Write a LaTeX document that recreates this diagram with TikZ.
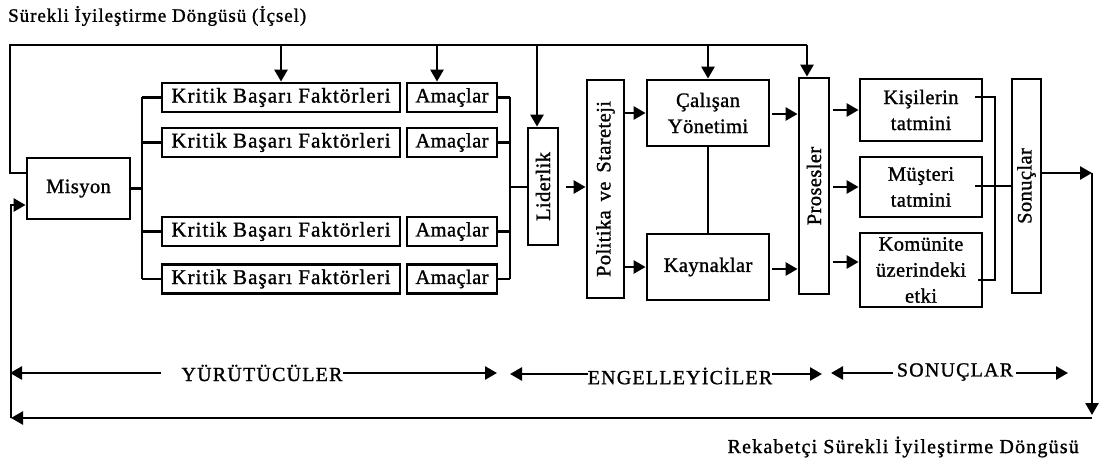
\documentclass[tikz,border=0pt]{standalone}
\usepackage{fontspec}
\setmainfont{Liberation Serif}[LetterSpace=2,FakeBold=1.2]
\usetikzlibrary{arrows.meta}
\newcommand\boxfont{\fontsize{20.5}{26}\selectfont}
\newcommand\kbffont{\fontsize{21}{26}\selectfont\addfontfeature{LetterSpace=5}}
\newcommand\labfont{\fontsize{20}{26}\selectfont\addfontfeature{LetterSpace=6}}
\begin{document}
\begin{tikzpicture}[x=1pt,y=-1pt,
  box/.style={draw, line width=2.8pt, inner sep=0pt, align=center, font=\boxfont},
  kbfbox/.style={box, minimum width=238pt, minimum height=29pt, font=\kbffont},
  ambox/.style={box, minimum width=90pt, minimum height=29pt},
  ln/.style={line width=2.6pt},
  arr/.style={line width=2.6pt, -{Triangle[length=12pt,width=13pt]}},
  lab/.style={inner sep=0pt, font=\labfont},
  ttl/.style={inner sep=0pt}]
\useasboundingbox (0,0) rectangle (1105,468);

% titles
\node[ttl, anchor=west, font={\fontsize{19}{22}\selectfont\addfontfeature{LetterSpace=5}}] (t1) at (8,16) {Sürekli İyileştirme Döngüsü (İçsel)};
\node[ttl, anchor=east, font={\fontsize{20}{22}\selectfont\addfontfeature{LetterSpace=6}}] (t2) at (1079,447) {Rekabetçi Sürekli İyileştirme Döngüsü};

% boxes
\node[box, minimum width=103pt, minimum height=61pt] (misyon) at (78.5,188.5) {Misyon};
\node[kbfbox] (kbf1) at (281,97.5) {Kritik Başarı Faktörleri};
\node[kbfbox] (kbf2) at (281,142.5) {Kritik Başarı Faktörleri};
\node[kbfbox] (kbf3) at (281,231.5) {Kritik Başarı Faktörleri};
\node[kbfbox] (kbf4) at (281,279) {Kritik Başarı Faktörleri};
\node[ambox] (am1) at (452,97.5) {Amaçlar};
\node[ambox] (am2) at (452,142.5) {Amaçlar};
\node[ambox] (am3) at (452,231.5) {Amaçlar};
\node[ambox] (am4) at (452,279) {Amaçlar};
\node[box, minimum width=30pt, minimum height=117pt, label={[rotate=90, font=\boxfont]center:Liderlik}] (lider) at (543,186.5) {};
\node[box, minimum width=37pt, minimum height=218pt, label={[rotate=90, font=\boxfont]center:Politika\, ve\, Stareteji}] (politika) at (605.5,189) {};
\node[box, minimum width=122pt, minimum height=66pt] (calisan) at (708,113) {Çalışan\\Yönetimi};
\node[box, minimum width=122pt, minimum height=66pt] (kaynak) at (708,267) {Kaynaklar};
\node[box, minimum width=30pt, minimum height=216pt, label={[rotate=90, font=\boxfont]center:Prosesler}] (proses) at (814,186) {};
\node[box, minimum width=122pt, minimum height=62pt] (kisi) at (921,110) {Kişilerin\\tatmini};
\node[box, minimum width=122pt, minimum height=60pt] (musteri) at (921,187) {Müşteri\\tatmini};
\node[box, minimum width=122pt, minimum height=74pt] (komunite) at (921,270) {Komünite\\üzerindeki\\etki};
\node[box, minimum width=29pt, minimum height=214pt, label={[rotate=90, font=\boxfont]center:Sonuçlar}] (sonuc) at (1026.5,186) {};

% top feedback loop
\coordinate (tl) at (10,45);
\coordinate (tr) at (807,45);
\draw[ln] ([yshift=15.5pt]misyon.west) -| (tl) -- (tr);
\draw[arr] (tr) -- (tr |- proses.north);
\draw[arr] (kbf1.north |- tl) -- (kbf1.north);
\coordinate (d2) at (437,45);
\draw[arr] (d2) -- (d2 |- am1.north);
\coordinate (d3) at (537,45);
\draw[arr] (d3) -- (d3 |- lider.north);
\draw[arr] (calisan.north |- tl) -- (calisan.north);

% left bracket
\coordinate (bl) at (142,188);
\draw[ln] (misyon.east) -- (misyon.east -| bl);
\draw[ln] (kbf1.west -| bl) -- (kbf4.west -| bl);
\foreach \k in {kbf1,kbf2,kbf3,kbf4} \draw[ln] (\k.west -| bl) -- (\k.west);

% right bracket
\coordinate (br) at (510,187);
\draw[ln] (am1.east -| br) -- (am4.east -| br);
\foreach \k in {am1,am2,am3,am4} \draw[ln] (\k.east) -- (\k.east -| br);
\draw[ln] (br) -- (br -| lider.west);

% middle arrows
\coordinate (l1) at (566,187);
\draw[arr] (l1) -- (l1 -| politika.west);
\draw[arr] (politika.east |- calisan.west) -- (calisan.west);
\draw[arr] (politika.east |- kaynak.west) -- (kaynak.west);
\draw[ln] (calisan.south) -- (kaynak.north);
\coordinate (c1) at (772,114);
\draw[arr] (c1) -- (c1 -| proses.west);
\coordinate (c2) at (772,269);
\draw[arr] (c2) -- (c2 -| proses.west);
\coordinate (p1) at (833,110);
\draw[arr] (p1) -- (p1 -| kisi.west);
\coordinate (p2) at (833,187);
\draw[arr] (p2) -- (p2 -| musteri.west);
\coordinate (p3) at (833,262);
\draw[arr] (p3) -- (p3 -| komunite.west);

% right side connectors
\coordinate (k1) at (975,97);
\coordinate (v1) at (995,97);
\coordinate (v2) at (995,280);
\coordinate (k2) at (978,280);
\draw[ln] (k1) -- (v1) -- (v2) -- (k2);
\coordinate (m1) at (975,186);
\draw[ln] (m1) -- (m1 -| sonuc.west);

% outer loop
\coordinate (rc1) at (1092,173);
\coordinate (rc2) at (1092,418);
\coordinate (lc) at (11,418);
\draw[arr] (sonuc.east |- rc1) -- (rc1);
\draw[arr] (rc1) -- ([yshift=3pt]rc2);
\draw[arr] (rc2) -- (lc);
\draw[arr] (lc) |- ([yshift=-16.5pt]misyon.west);

% bottom labels
\node[lab] (yur) at (262,373) {YÜRÜTÜCÜLER};
\coordinate (y1) at (10,373);
\coordinate (y2) at (497,373);
\draw[arr] ([xshift=-20pt]yur.west) -- (y1);
\draw[arr] (yur.east) -- (y2);
\node[lab] (eng) at (680,376) {ENGELLEYİCİLER};
\coordinate (e1) at (510,374);
\coordinate (e2) at (822,374);
\draw[arr] (eng.west |- e1) -- (e1);
\draw[arr] (eng.east |- e2) -- (e2);
\node[lab] (son) at (955,372) {SONUÇLAR};
\coordinate (s1) at (831,373);
\coordinate (s2) at (1068,373);
\draw[arr] ([xshift=-4pt]son.west |- s1) -- (s1);
\draw[arr] ([xshift=3pt]son.east |- s2) -- (s2);
\end{tikzpicture}
\end{document}
